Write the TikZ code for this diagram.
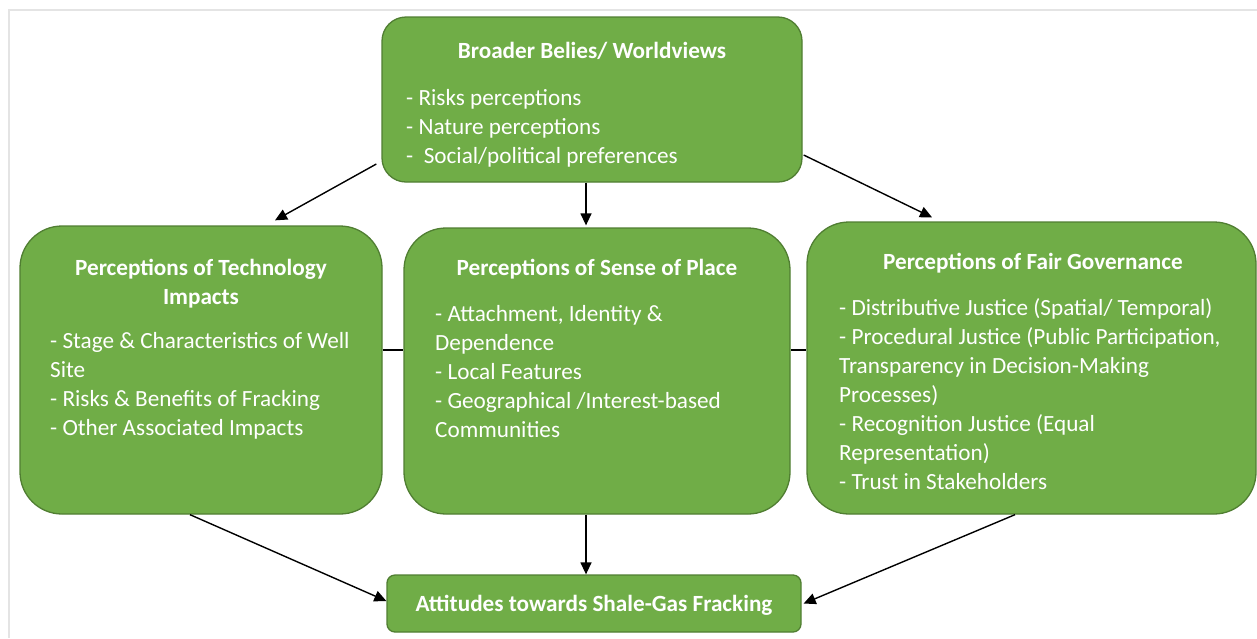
\documentclass[tikz,border=0pt]{standalone}
\usepackage{fontspec}
\setmainfont{Carlito}
\usetikzlibrary{arrows.meta}
\definecolor{boxfill}{HTML}{70AD47}
\definecolor{boxline}{HTML}{507E32}
\definecolor{framegrey}{HTML}{E4E4E4}
\newcommand{\tstrut}{\rule{0pt}{19pt}}
\begin{document}
\begin{tikzpicture}[x=1pt,y=-1pt,
  box/.style={draw=boxline,line width=1.3pt,fill=boxfill,rounded corners=#1,inner sep=0pt},
  title/.style={text=white,font=\fontsize{23.2}{29}\selectfont\bfseries,inner sep=0pt,align=center,anchor=north},
  items/.style={text=white,font=\fontsize{23.2}{29}\selectfont,inner sep=0pt,align=left,anchor=north west},
  arr/.style={line width=1.4pt,-{Triangle[length=12pt,width=11pt]}},
  link/.style={line width=1.4pt}]
\useasboundingbox (0,0) rectangle (1257,638);
\fill[white] (0,0) rectangle (1257,638);
\draw[framegrey,line width=2pt] (9,638) -- (9,10) -- (1257,10);

% boxes
\node[box=24pt,minimum width=420pt,minimum height=165pt] (top) at (592,99.5) {};
\node[box=42pt,minimum width=362pt,minimum height=288pt] (left) at (201,370) {};
\node[box=42pt,minimum width=386pt,minimum height=286pt] (mid) at (597,371) {};
\node[box=42pt,minimum width=449pt,minimum height=292pt] (right) at (1031.5,368) {};
\node[box=8pt,minimum width=414pt,minimum height=57pt] (bottom) at (594,603.5) {};

% texts
\node[title] (toptitle) at (592,39.2) {\tstrut Broader Belies/ Worldviews};
\node[items] (topitems) at (406,85.8) {\tstrut- Risks perceptions\\- Nature perceptions\\-\ \ Social/political preferences};

\node[title] (lefttitle) at (201,255.8) {\tstrut Perceptions of Technology\\Impacts};
\node[items] (leftitems) at (50,329.2) {\tstrut- Stage \& Characteristics of Well\\Site\\- Risks \& Benefits of Fracking\\- Other Associated Impacts};

\node[title] (midtitle) at (597,255.8) {\tstrut Perceptions of Sense of Place};
\node[items] (miditems) at (435,302.5) {\tstrut- Attachment, Identity \&\\Dependence\\- Local Features\\- Geographical /Interest-based\\Communities};

\node[title] (righttitle) at (1033,249.8) {\tstrut Perceptions of Fair Governance};
\node[items] (rightitems) at (839,296.5) {\tstrut- Distributive Justice (Spatial/ Temporal)\\- Procedural Justice (Public Participation,\\Transparency in Decision-Making\\Processes)\\- Recognition Justice (Equal\\Representation)\\- Trust in Stakeholders};

\node[title] (bottomtitle) at (594,591.8) {\tstrut Attitudes towards Shale-Gas Fracking};

% links between middle row boxes
\draw[link] ([yshift=20pt]left.east) -- ([yshift=21pt]mid.west);
\draw[link] ([yshift=21pt]mid.east) -- ([yshift=18pt]right.west);

% arrows
\draw[arr] ([shift={(-5pt,-64.5pt)}]top.west) -- ([shift={(74pt,5pt)}]left.north);
\draw[arr] ([xshift=-6pt]top.south) -- ([shift={(-11pt,2pt)}]mid.north);
\draw[arr] ([shift={(1pt,-55.5pt)}]top.east) -- ([shift={(-99.5pt,4pt)}]right.north);
\draw[arr] ([xshift=-11pt]left.south) -- ([yshift=2.5pt]bottom.west);
\draw[arr] ([xshift=-11pt]mid.south) -- ([xshift=-8pt]bottom.north);
\draw[arr] ([xshift=-16.5pt]right.south) -- ([xshift=2pt]bottom.east);
\end{tikzpicture}
\end{document}
